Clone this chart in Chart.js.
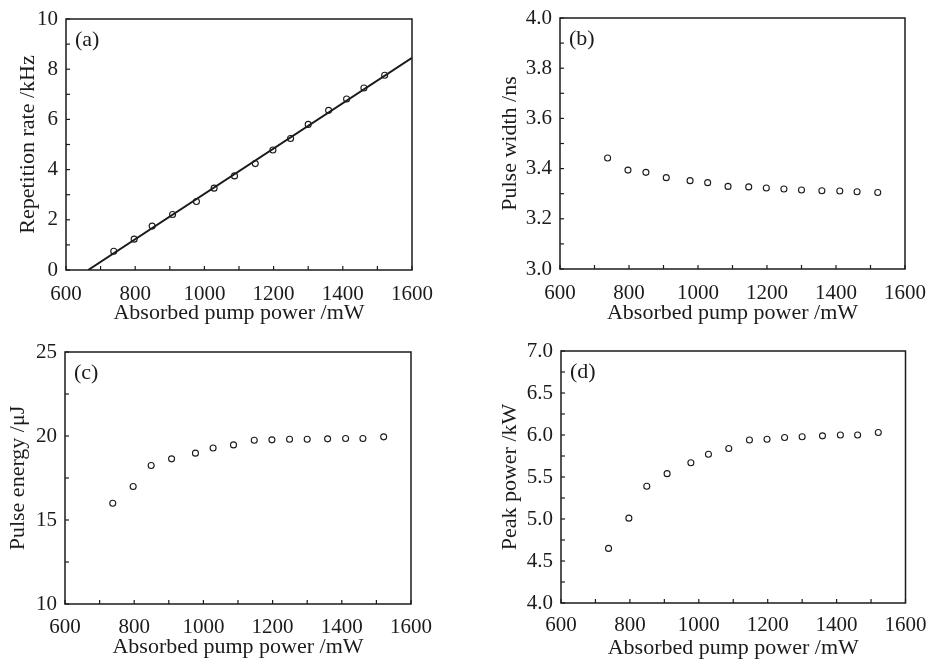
<!DOCTYPE html>
<html><head><meta charset="utf-8">
<script src="https://cdn.jsdelivr.net/npm/chart.js@4"></script>
<style>
body{margin:0;background:#fff;width:930px;height:660px;position:relative;overflow:hidden}
canvas{position:absolute}
</style></head><body>
<canvas id="ca" width="465" height="330" style="left:0;top:0"></canvas>
<canvas id="cb" width="465" height="330" style="left:465px;top:0"></canvas>
<canvas id="cc" width="465" height="330" style="left:0;top:330px"></canvas>
<canvas id="cd" width="465" height="330" style="left:465px;top:330px"></canvas>
<script>
// ---- data ----
const pumpPower   = [738, 797, 849, 908, 977, 1028, 1087, 1147, 1198, 1249, 1300, 1359, 1411, 1461, 1521];
const repRate     = [0.75, 1.23, 1.75, 2.21, 2.73, 3.26, 3.75, 4.24, 4.78, 5.24, 5.80, 6.36, 6.81, 7.25, 7.76];
const pulseWidth  = [3.442, 3.394, 3.385, 3.364, 3.352, 3.344, 3.329, 3.327, 3.323, 3.319, 3.315, 3.312, 3.311, 3.308, 3.305];
const pulseEnergy = [16.00, 16.99, 18.24, 18.64, 18.98, 19.29, 19.47, 19.75, 19.77, 19.81, 19.81, 19.83, 19.85, 19.85, 19.95];
const peakPower   = [4.65, 5.01, 5.39, 5.54, 5.67, 5.77, 5.84, 5.94, 5.95, 5.97, 5.98, 5.99, 6.00, 6.00, 6.03];
const fitX = [664, 1600];
const fitY = [0, 8.45];
const xTitle = 'Absorbed pump power /mW';
const panelLabels = ['(a)', '(b)', '(c)', '(d)'];
const yTitles = ['Repetition rate /kHz', 'Pulse width /ns', 'Pulse energy /\u03bcJ', 'Peak power /kW'];

const FONT = "'Liberation Serif', 'Times New Roman', serif";
const INK = '#1b1b1b';
const W = 330;

const frameTicks = {
  id: 'frameTicks',
  afterDraw(chart, args, opts) {
    const {ctx, chartArea: a, scales: {x, y}} = chart;
    ctx.save();
    ctx.strokeStyle = INK;
    ctx.lineWidth = 1.5;
    ctx.strokeRect(a.left, a.top, a.right - a.left, a.bottom - a.top);
    ctx.lineWidth = 1.2;
    const L = 4;
    x.ticks.forEach(t => {
      const p = x.getPixelForValue(t.value);
      ctx.beginPath(); ctx.moveTo(p, a.bottom); ctx.lineTo(p, a.bottom - L); ctx.stroke();
    });
    y.ticks.forEach(t => {
      const p = y.getPixelForValue(t.value);
      ctx.beginPath(); ctx.moveTo(a.left, p); ctx.lineTo(a.left + L, p); ctx.stroke();
    });
    ctx.font = '22px ' + FONT;
    ctx.fillStyle = INK;
    ctx.textBaseline = 'middle';
    ctx.textAlign = 'left';
    ctx.fillText(opts.label, a.left + 9, a.top + 21);
    ctx.restore();
  }
};

function pts(ys) { return pumpPower.map((x, i) => ({x, y: ys[i]})); }

function makePanel(id, c) {
  const datasets = [];
  if (c.fit) {
    datasets.push({data: fitX.map((x, i) => ({x, y: fitY[i]})), showLine: true, borderColor: INK,
      borderWidth: 2, pointRadius: 0});
  }
  datasets.push({data: pts(c.values), pointStyle: 'circle', pointRadius: 3, borderWidth: 1.1,
    borderColor: INK, backgroundColor: 'rgba(255,255,255,0)', showLine: false});
  new Chart(document.getElementById(id), {
    type: 'scatter',
    data: {datasets},
    options: {
      responsive: false, animation: false, events: [],
      layout: {padding: {left: 0, top: c.top, right: 465 - c.right, bottom: 0}},
      plugins: {legend: {display: false}, tooltip: {enabled: false}, frameTicks: {label: c.label}},
      scales: {
        x: {
          type: 'linear', min: 600, max: 1600,
          grid: {display: false, drawTicks: false}, border: {display: false},
          afterFit: s => { s.height = W - c.bottom; s.paddingLeft = 0; s.paddingRight = 0; },
          ticks: {stepSize: 100, autoSkip: false, maxRotation: 0, color: INK, padding: c.xTickPad,
            font: {family: FONT, size: 21},
            callback: v => (Math.round(v) % 200 === 0 ? String(Math.round(v)) : '')},
          title: {display: true, text: xTitle, color: INK, font: {family: FONT, size: 22},
            padding: {top: 0, bottom: W - 13.2 - c.xTitleY}}
        },
        y: {
          type: 'linear', min: c.yMin, max: c.yMax,
          grid: {display: false, drawTicks: false}, border: {display: false},
          afterFit: s => { s.width = c.left; s.paddingTop = 0; s.paddingBottom = 0; },
          ticks: {stepSize: c.yStep, autoSkip: false, color: INK, padding: 8,
            font: {family: FONT, size: 21},
            callback: v => { const k = Math.round((v - c.yMin) / c.yStep); return k % 2 === 0 ? v.toFixed(c.dec) : ''; }},
          title: {display: true, text: c.yTitle, color: INK, font: {family: FONT, size: 22},
            padding: {top: c.yTitleX - 13.2, bottom: 0}}
        }
      }
    },
    plugins: [frameTicks]
  });
}

makePanel('ca', {label: panelLabels[0], yTitle: yTitles[0], values: repRate, fit: true,
  left: 66, right: 412, top: 19, bottom: 270, xTickPad: 12, xTitleY: 313, yTitleX: 28.5,
  yMin: 0, yMax: 10, yStep: 1, dec: 0});
makePanel('cb', {label: panelLabels[1], yTitle: yTitles[1], values: pulseWidth,
  left: 95, right: 440, top: 18, bottom: 269, xTickPad: 12, xTitleY: 313, yTitleX: 45,
  yMin: 3, yMax: 4, yStep: 0.1, dec: 1});
makePanel('cc', {label: panelLabels[2], yTitle: yTitles[2], values: pulseEnergy,
  left: 65, right: 411, top: 22, bottom: 274, xTickPad: 11, xTitleY: 317, yTitleX: 18.5,
  yMin: 10, yMax: 25, yStep: 2.5, dec: 0});
makePanel('cd', {label: panelLabels[3], yTitle: yTitles[3], values: peakPower,
  left: 96, right: 440.5, top: 21, bottom: 273, xTickPad: 10, xTitleY: 318, yTitleX: 45,
  yMin: 4, yMax: 7, yStep: 0.25, dec: 1});
</script>
</body></html>
